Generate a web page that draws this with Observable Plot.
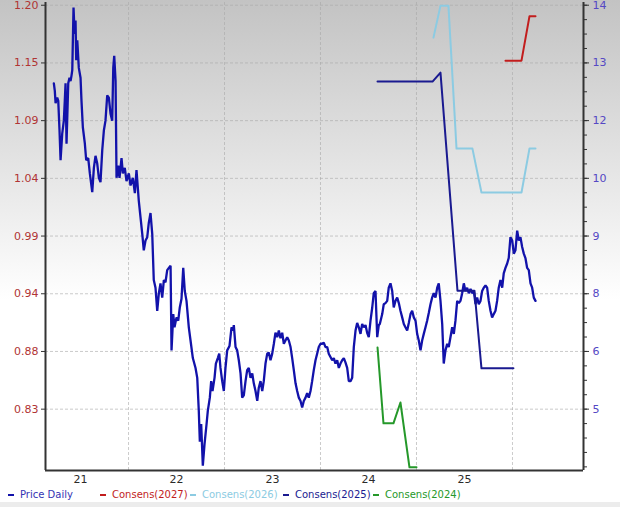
<!DOCTYPE html>
<html><head><meta charset="utf-8">
<script src="https://cdn.jsdelivr.net/npm/d3@7"></script>
<script src="https://cdn.jsdelivr.net/npm/@observablehq/plot@0.6"></script>
<style>
body{margin:0;}
#wrap{position:relative;width:620px;height:507px;background:linear-gradient(to bottom,#c3c3c3 0px,#ffffff 300px);overflow:hidden;font-family:"DejaVu Sans",sans-serif;}
#chart svg{display:block;}
#legend{position:absolute;top:488px;left:0;width:620px;height:14px;font-size:10px;}
#legend .item{position:absolute;top:0;white-space:nowrap;line-height:14px;}
#legend .dash{position:absolute;top:6px;width:6px;height:2px;}
#strip{position:absolute;top:502px;left:0;width:620px;height:5px;background:#ececec;}
</style></head>
<body><div id="wrap"><div id="chart"></div><div id="legend"></div><div id="strip"></div></div>
<script>
// ---- data ----
const priceYears = [
2021.222,2021.232,2021.240,2021.257,2021.268,2021.281,2021.292,2021.309,2021.326,2021.336,
2021.344,2021.354,2021.372,2021.385,2021.396,2021.406,2021.414,2021.427,2021.438,2021.448,
2021.455,2021.466,2021.482,2021.500,2021.510,2021.524,2021.545,2021.559,2021.580,2021.597,
2021.622,2021.639,2021.656,2021.674,2021.691,2021.708,2021.726,2021.743,2021.760,2021.778,
2021.795,2021.813,2021.830,2021.841,2021.851,2021.865,2021.875,2021.893,2021.906,2021.927,
2021.941,2021.961,2021.979,2022.003,2022.021,2022.045,2022.066,2022.083,2022.101,2022.107,
2022.125,2022.143,2022.159,2022.177,2022.195,2022.211,2022.229,2022.247,2022.263,2022.281,
2022.299,2022.316,2022.333,2022.351,2022.368,2022.385,2022.403,2022.420,2022.438,2022.448,
2022.466,2022.479,2022.500,2022.518,2022.534,2022.552,2022.570,2022.586,2022.604,2022.628,
2022.646,2022.670,2022.698,2022.716,2022.732,2022.743,2022.757,2022.774,2022.792,2022.813,
2022.826,2022.847,2022.861,2022.875,2022.896,2022.910,2022.930,2022.945,2022.958,2022.976,
2022.993,2023.010,2023.028,2023.052,2023.073,2023.089,2023.097,2023.115,2023.132,2023.149,
2023.167,2023.184,2023.201,2023.219,2023.236,2023.253,2023.271,2023.289,2023.305,2023.323,
2023.341,2023.357,2023.375,2023.393,2023.409,2023.427,2023.445,2023.461,2023.479,2023.497,
2023.514,2023.531,2023.549,2023.566,2023.583,2023.601,2023.618,2023.635,2023.653,2023.670,
2023.688,2023.705,2023.722,2023.740,2023.757,2023.774,2023.792,2023.809,2023.826,2023.844,
2023.861,2023.878,2023.896,2023.913,2023.930,2023.948,2023.965,2023.982,2024.000,2024.018,
2024.034,2024.052,2024.070,2024.086,2024.104,2024.122,2024.139,2024.156,2024.174,2024.191,
2024.208,2024.226,2024.243,2024.260,2024.278,2024.295,2024.313,2024.330,2024.347,2024.365,
2024.382,2024.399,2024.417,2024.434,2024.451,2024.469,2024.486,2024.503,2024.521,2024.539,
2024.555,2024.573,2024.591,2024.607,2024.618,2024.643,2024.659,2024.677,2024.695,2024.711,
2024.729,2024.747,2024.763,2024.781,2024.799,2024.816,2024.833,2024.851,2024.868,2024.885,
2024.903,2024.920,2024.938,2024.955,2024.972,2024.990,2025.007,2025.024,2025.042,2025.059,
2025.076,2025.094,2025.111,2025.128,2025.146,2025.163,2025.180,2025.198,2025.216,2025.232,
2025.250,2025.268,2025.284,2025.302,2025.320,2025.336,2025.354,2025.372,2025.389,2025.406,
2025.424,2025.441,2025.458,2025.476,2025.493,2025.510,2025.528,2025.545,2025.563,2025.580,
2025.597,2025.615,2025.632,2025.649,2025.667,2025.684,2025.701,2025.719,2025.736,2025.753,
2025.771,2025.788,2025.805,2025.823,2025.840,2025.857,2025.875,2025.893,2025.909,2025.927,
2025.945,2025.961,2025.979,2025.997,2026.014,2026.031,2026.049,2026.066,2026.083,2026.101,
2026.118,2026.135,2026.153,2026.170,2026.188,2026.205,2026.222,2026.240];
const priceValues = [
1.129,1.122,1.111,1.116,1.113,1.086,1.059,1.083,1.095,1.113,
1.129,1.074,1.129,1.134,1.131,1.136,1.141,1.198,1.174,1.186,
1.150,1.168,1.143,1.134,1.113,1.089,1.074,1.059,1.061,1.047,
1.030,1.052,1.063,1.056,1.043,1.039,1.068,1.086,1.095,1.118,
1.116,1.101,1.095,1.143,1.154,1.131,1.043,1.054,1.043,1.061,
1.047,1.052,1.040,1.047,1.036,1.043,1.029,1.050,1.029,1.022,
1.007,0.992,0.977,0.986,0.989,1.002,1.011,0.992,0.950,0.943,
0.922,0.938,0.947,0.934,0.950,0.948,0.959,0.961,0.963,0.886,
0.919,0.907,0.916,0.913,0.925,0.933,0.961,0.940,0.931,0.907,
0.895,0.879,0.870,0.861,0.831,0.803,0.819,0.781,0.801,0.819,
0.831,0.843,0.858,0.849,0.861,0.874,0.879,0.883,0.870,0.858,
0.849,0.870,0.886,0.890,0.907,0.904,0.909,0.889,0.886,0.877,
0.865,0.843,0.845,0.858,0.868,0.870,0.861,0.865,0.856,0.849,
0.840,0.852,0.858,0.849,0.858,0.874,0.883,0.884,0.877,0.883,
0.892,0.902,0.898,0.904,0.897,0.902,0.892,0.895,0.898,0.895,
0.889,0.879,0.868,0.856,0.849,0.843,0.840,0.834,0.840,0.843,
0.847,0.843,0.849,0.858,0.868,0.877,0.883,0.889,0.892,0.892,
0.893,0.889,0.889,0.883,0.880,0.877,0.879,0.874,0.877,0.870,
0.874,0.877,0.879,0.875,0.870,0.858,0.858,0.861,0.889,0.904,
0.911,0.907,0.901,0.910,0.907,0.909,0.902,0.898,0.913,0.925,
0.938,0.940,0.898,0.909,0.910,0.919,0.928,0.929,0.931,0.943,
0.947,0.940,0.925,0.931,0.934,0.929,0.922,0.916,0.910,0.907,
0.904,0.911,0.919,0.922,0.916,0.913,0.901,0.895,0.886,0.895,
0.901,0.907,0.913,0.920,0.928,0.934,0.938,0.934,0.943,0.947,
0.931,0.910,0.874,0.886,0.892,0.889,0.898,0.907,0.901,0.913,
0.931,0.929,0.931,0.938,0.947,0.940,0.943,0.938,0.942,0.938,
0.940,0.928,0.934,0.928,0.931,0.940,0.943,0.945,0.943,0.931,
0.922,0.916,0.919,0.922,0.931,0.943,0.950,0.943,0.956,0.961,
0.965,0.970,0.989,0.986,0.974,0.977,0.995,0.986,0.989,0.980,
0.974,0.970,0.961,0.959,0.947,0.943,0.934,0.931];

// consensus series (right axis units)
const cons2027Years  = [2025.927, 2026.094, 2026.177, 2026.240];
const cons2027Values = [12.95, 12.95, 13.95, 13.95];
const cons2026Years  = [2025.177, 2025.250, 2025.333, 2025.417, 2025.583, 2025.677, 2026.094, 2026.177, 2026.240];
const cons2026Values = [13.47, 14.19, 14.19, 10.97, 10.97, 9.98, 9.98, 10.97, 10.97];
const cons2025Years  = [2024.594, 2025.167, 2025.250, 2025.427, 2025.604, 2025.677, 2026.010];
const cons2025Values = [12.48, 12.48, 12.68, 7.77, 7.77, 6.02, 6.02];
const cons2024Years  = [2024.594, 2024.656, 2024.760, 2024.833, 2024.927, 2025.000];
const cons2024Values = [6.49, 4.78, 4.78, 5.25, 3.79, 3.79];

// axes
const leftTickValues  = [1.2, 1.1475, 1.095, 1.0425, 0.99, 0.9375, 0.885, 0.8325];
const leftTickLabels  = ["1.20","1.15","1.09","1.04","0.99","0.94","0.88","0.83"];
const rightTickValues = [14.2, 12.9, 11.6, 10.3, 9.0, 7.7, 6.4, 5.1];
const rightTickLabels = ["14","13","12","10","9","8","6","5"];
const yearBoundaries  = [2022, 2023, 2024, 2025, 2026];
const xLabelPositions = [2021.5, 2022.5, 2023.5, 2024.5, 2025.5];
const xTickLabels     = ["21","22","23","24","25"];

const seriesNames  = ["Price Daily","Consens(2027)","Consens(2026)","Consens(2025)","Consens(2024)"];
const seriesColors = ["#1212aa","#c21d1d","#8ccbe2","#1a1a90","#25982a"];

// ---- scales ----
const xDomain = [2021.135, 2026.74];
const yDomain = [0.7767, 1.2025];
const rightDomain = [3.718, 14.261];
const r2l = d3.scaleLinear(rightDomain, yDomain);

const price = priceYears.map((t, i) => ({t, v: priceValues[i]}));
const mk = (ys, vs) => ys.map((t, i) => ({t, v: r2l(vs[i])}));
const c2027 = mk(cons2027Years, cons2027Values);
const c2026 = mk(cons2026Years, cons2026Values);
const c2025 = mk(cons2025Years, cons2025Values);
const c2024 = mk(cons2024Years, cons2024Values);

const leftLabelOf = new Map(leftTickValues.map((v, i) => [v, leftTickLabels[i]]));
const rightPos = rightTickValues.map(r2l);
const rightLabelOf = new Map(rightPos.map((v, i) => [v, rightTickLabels[i]]));
const xLabelOf = new Map(xLabelPositions.map((v, i) => [v, xTickLabels[i]]));
const minorRight = d3.range(0, 40).map(k => 14.2 - k * 0.325).filter(r => r >= rightDomain[0]).map(r2l);

const gridStyle = {stroke: "#a8a8a8", strokeOpacity: 0.6, strokeDasharray: "3,2", strokeWidth: 1};

const chart = Plot.plot({
  width: 620, height: 488,
  marginLeft: 45, marginRight: 37, marginTop: 2, marginBottom: 18,
  style: {background: "transparent", fontFamily: "DejaVu Sans, sans-serif", overflow: "visible"},
  x: {domain: xDomain, axis: null},
  y: {domain: yDomain, axis: null},
  marks: [
    Plot.gridY(leftTickValues, gridStyle),
    Plot.gridX(yearBoundaries, gridStyle),
    Plot.line(price, {x: "t", y: "v", stroke: seriesColors[0], strokeWidth: 2.3, strokeLinejoin: "miter"}),
    Plot.line(c2024, {x: "t", y: "v", stroke: seriesColors[4], strokeWidth: 2}),
    Plot.line(c2025, {x: "t", y: "v", stroke: seriesColors[3], strokeWidth: 2}),
    Plot.line(c2026, {x: "t", y: "v", stroke: seriesColors[2], strokeWidth: 2}),
    Plot.line(c2027, {x: "t", y: "v", stroke: seriesColors[1], strokeWidth: 2}),
    Plot.axisY(leftTickValues, {anchor: "left", tickSize: 4, tickPadding: 3, stroke: "#333", fill: "#b03434", fontSize: 11, tickFormat: d => leftLabelOf.get(d), label: null}),
    Plot.axisY(minorRight, {anchor: "right", tickSize: 3, stroke: "#333", tickFormat: () => "", label: null}),
    Plot.axisY(rightPos, {anchor: "right", tickSize: 5, tickPadding: 4, stroke: "#333", fill: "#5548c4", fontSize: 11, tickFormat: d => rightLabelOf.get(d), label: null}),
    Plot.axisX(xLabelPositions, {anchor: "bottom", tickSize: 0, tickPadding: 5, fill: "#2a2a2a", fontSize: 11, tickFormat: d => xLabelOf.get(d), label: null}),
    Plot.ruleX([xDomain[0], xDomain[1]], {stroke: "#333", strokeWidth: 2}),
    Plot.ruleY([yDomain[0]], {stroke: "#333", strokeWidth: 2})
  ]
});
document.getElementById("chart").appendChild(chart);

// legend
const legendX = [8, 100, 190, 283, 373];
const legend = document.getElementById("legend");
seriesNames.forEach((name, i) => {
  const dash = document.createElement("div");
  dash.className = "dash";
  dash.style.left = legendX[i] + "px";
  dash.style.background = seriesColors[i];
  legend.appendChild(dash);
  const s = document.createElement("span");
  s.className = "item";
  s.style.left = (legendX[i] + 12) + "px";
  s.style.color = i === 0 ? "#3434b4" : seriesColors[i];
  s.textContent = name;
  legend.appendChild(s);
});
</script>
</body></html>
